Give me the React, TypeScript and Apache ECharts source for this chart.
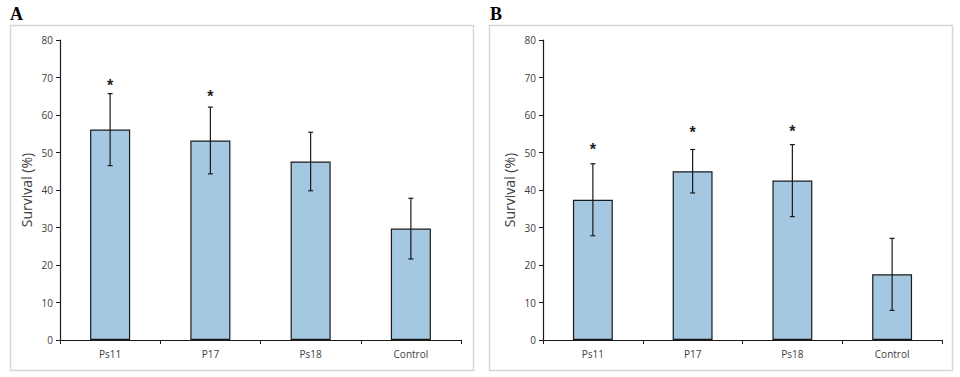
import React, { useEffect, useRef } from "react";
import * as echarts from "echarts";

const categories = ["Ps11", "P17", "Ps18", "Control"];
const yTicks = [0, 10, 20, 30, 40, 50, 60, 70, 80];

const survivalA = [56.1, 53.2, 47.6, 29.7];
const errorA = [9.6, 8.9, 7.8, 8.1];
const starA: (number | null)[] = [69.0, 66.0, null, null];

const survivalB = [37.4, 45.0, 42.5, 17.5];
const errorB = [9.6, 5.8, 9.6, 9.6];
const starB: (number | null)[] = [52.0, 56.5, 56.7, null];

const BAR_FILL = "#a4c8e2";
const INK = "#1a1a1a";
const LABEL = "#404040";

function errorSeries(idx: number, vals: number[], errs: number[]) {
  return {
    type: "custom",
    xAxisIndex: idx,
    yAxisIndex: idx,
    z: 5,
    data: vals.map((v, i) => [i, v, errs[i]]),
    renderItem: (_p: any, api: any) => {
      const x = api.value(0);
      const v = api.value(1);
      const e = api.value(2);
      const top = api.coord([x, v + e]);
      const bot = api.coord([x, v - e]);
      const h = 2.5;
      const st = { stroke: INK, lineWidth: 1.2 };
      return {
        type: "group",
        children: [
          { type: "line", shape: { x1: top[0], y1: top[1], x2: bot[0], y2: bot[1] }, style: st },
          { type: "line", shape: { x1: top[0] - h, y1: top[1], x2: top[0] + h, y2: top[1] }, style: st },
          { type: "line", shape: { x1: bot[0] - h, y1: bot[1], x2: bot[0] + h, y2: bot[1] }, style: st },
        ],
      };
    },
  };
}

function starSeries(idx: number, stars: (number | null)[]) {
  return {
    type: "custom",
    xAxisIndex: idx,
    yAxisIndex: idx,
    z: 6,
    data: stars
      .map((s, i) => (s == null ? null : [i, s]))
      .filter((d) => d != null),
    renderItem: (_p: any, api: any) => {
      const pt = api.coord([api.value(0), api.value(1)]);
      return {
        type: "text",
        x: pt[0],
        y: pt[1] + 4,
        style: {
          text: "*",
          fill: "#222",
          font: "bold 16px 'Liberation Sans', Arial, sans-serif",
          textAlign: "center",
          textVerticalAlign: "middle",
        },
      };
    },
  };
}

function xAxis(idx: number) {
  return {
    type: "category",
    gridIndex: idx,
    data: categories,
    axisLine: { lineStyle: { color: INK, width: 1.2 } },
    axisTick: { show: true, length: 4, lineStyle: { color: INK } },
    axisLabel: { color: LABEL, fontSize: 10, fontFamily: "'Open Sans', sans-serif", margin: 9 },
  };
}

function yAxis(idx: number) {
  return {
    type: "value",
    gridIndex: idx,
    min: yTicks[0],
    max: yTicks[yTicks.length - 1],
    interval: yTicks[1] - yTicks[0],
    name: "Survival (%)",
    nameLocation: "middle",
    nameGap: 27,
    nameTextStyle: { color: LABEL, fontSize: 14, fontFamily: "'Open Sans', sans-serif" },
    axisLine: { show: true, lineStyle: { color: INK, width: 1.2 } },
    axisTick: { show: true, length: 4, lineStyle: { color: INK } },
    axisLabel: { color: LABEL, fontSize: 10, fontFamily: "'Open Sans', sans-serif", margin: 7 },
    splitLine: { show: false },
  };
}

function barSeries(idx: number, vals: number[]) {
  return {
    type: "bar",
    xAxisIndex: idx,
    yAxisIndex: idx,
    data: vals,
    barWidth: "40%",
    itemStyle: { color: BAR_FILL, borderColor: INK, borderWidth: 1.2 },
  };
}

export default function App() {
  const ref = useRef<HTMLDivElement>(null);
  useEffect(() => {
    if (!ref.current) return;
    const chart = echarts.init(ref.current, null, { renderer: "svg" });
    chart.setOption({
      animation: false,
      backgroundColor: "#ffffff",
      grid: [
        { left: 60, top: 40, width: 401, height: 300 },
        { left: 543, top: 40, width: 399, height: 300 },
      ],
      xAxis: [xAxis(0), xAxis(1)],
      yAxis: [yAxis(0), yAxis(1)],
      graphic: [
        { type: "rect", shape: { x: 10.5, y: 25.5, width: 463, height: 345 }, style: { fill: "none", stroke: "#d6d6d6", lineWidth: 1.5 }, z: -1 },
        { type: "rect", shape: { x: 489.5, y: 25.5, width: 463, height: 345 }, style: { fill: "none", stroke: "#d6d6d6", lineWidth: 1.5 }, z: -1 },
        { type: "text", x: 10, y: 5, style: { text: "A", fill: "#000", font: "bold 18px 'Liberation Serif', 'DejaVu Serif', serif" } },
        { type: "text", x: 490, y: 5, style: { text: "B", fill: "#000", font: "bold 18px 'Liberation Serif', 'DejaVu Serif', serif" } },
      ],
      series: [
        barSeries(0, survivalA),
        errorSeries(0, survivalA, errorA),
        starSeries(0, starA),
        barSeries(1, survivalB),
        errorSeries(1, survivalB, errorB),
        starSeries(1, starB),
      ],
    });
    return () => chart.dispose();
  }, []);
  return (
    <div
      ref={ref}
      style={{ position: "fixed", left: 0, top: 0, width: 960, height: 377, background: "#fff" }}
    />
  );
}
